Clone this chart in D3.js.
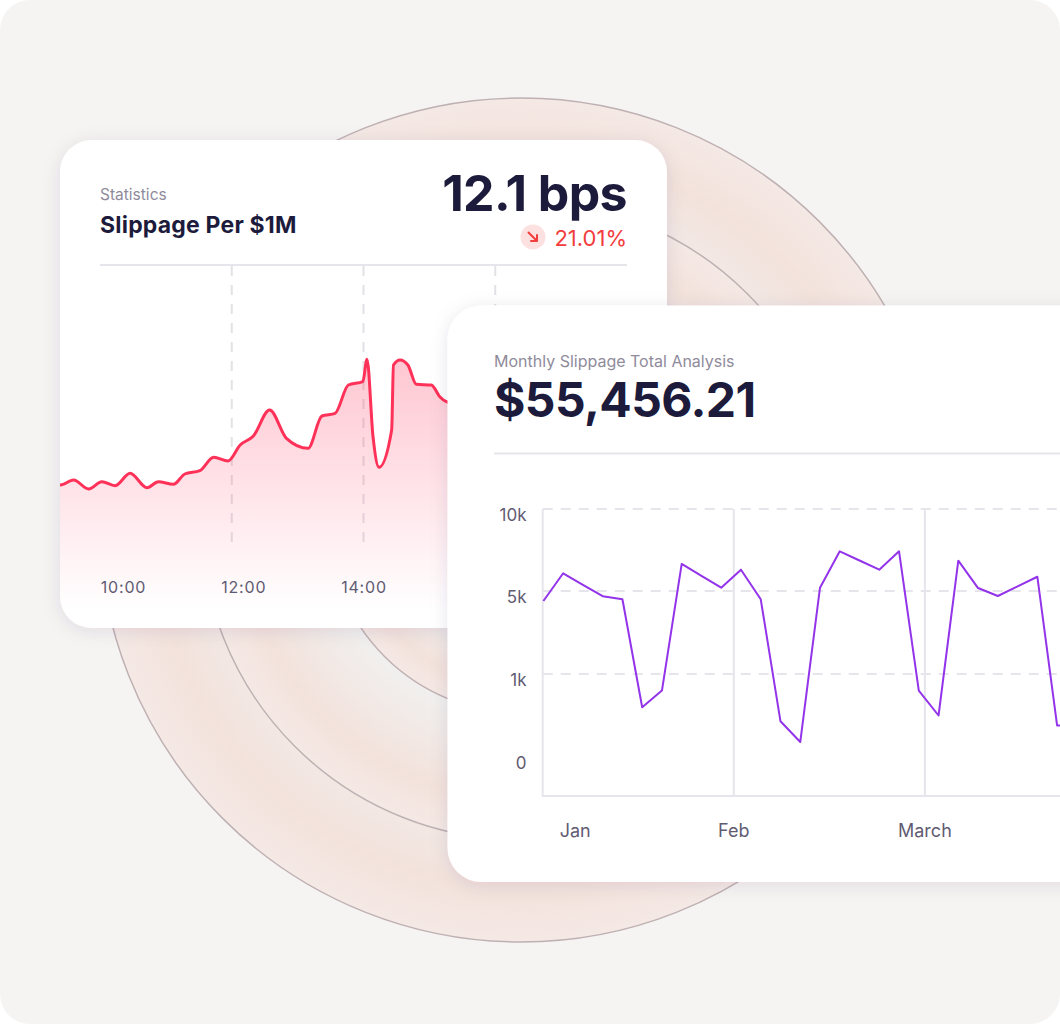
<!DOCTYPE html>
<html>
<head>
<meta charset="utf-8">
<script src="https://cdn.jsdelivr.net/npm/d3@7"></script>
<style>
  html, body { margin: 0; padding: 0; background: #ffffff; }
  svg { display: block; font-family: Inter, "Noto Sans", sans-serif; }
</style>
</head>
<body>
<div id="chart"></div>
<script>
// ---- data ----
// left card: slippage per $1M (bps) over the trading day (decimal hours)
const slipHours = [8.7, 8.95, 9.17, 9.42, 9.64, 9.86, 10.11, 10.39, 10.58, 10.83, 11.02, 11.27, 11.5, 11.74,
  11.94, 12.16, 12.43, 12.71, 13.07, 13.3, 13.52, 13.74, 13.98, 14.05, 14.15, 14.25, 14.46, 14.49,
  14.6, 14.73, 14.87, 15.12, 15.26, 15.37, 15.6, 16.0];
const slipBps = [8.3, 8.0, 8.5, 7.6, 8.33, 7.93, 9.17, 7.73, 8.33, 8.07, 9.1, 9.43, 10.77, 10.4,
  12.0, 12.9, 15.5, 12.67, 11.67, 14.9, 15.17, 18.0, 18.33, 20.57, 12.83, 9.77, 13.5, 20.0,
  20.5, 20.0, 18.07, 18.0, 16.83, 16.33, 16.0, 16.5];
const hourTicks = [10, 12, 14];

// right card: monthly slippage total
const monthlyValues = [4520, 6080, 5380, 4750, 4600, 600, 800, 6650, 5920, 5200, 6300, 4600, 430, 180,
  5200, 7420, 6860, 6300, 7420, 800, 500, 6850, 5180, 4760, 5280, 5870, 380, 380];
const monthLabels = ["Jan", "Feb", "March"];
const valueTicks = [0, 1000, 5000, 10000];
const valueTickLabels = ["0", "1k", "5k", "10k"];

const width = 1060, height = 1024;
const dark = "#1d1b3b", grey = "#8f8b9b", axisText = "#5f5b72", gridColor = "#e6e5ec";
const red = "#fe3158", purple = "#9333ea";

const svg = d3.select("#chart").append("svg")
  .attr("width", width)
  .attr("height", height);

const defs = svg.append("defs");

const ringGrad = defs.append("radialGradient").attr("id", "ring");
[[0, "#eeeded"], [0.6, "#f1f0ef"], [0.87, "#f3e2dc"], [1, "#f5e9e5"]].forEach(s =>
  ringGrad.append("stop").attr("offset", s[0]).attr("stop-color", s[1]));

const areaGrad = defs.append("linearGradient").attr("id", "areaFill")
  .attr("gradientUnits", "userSpaceOnUse")
  .attr("x1", 0).attr("x2", 0).attr("y1", 355).attr("y2", 610);
areaGrad.append("stop").attr("offset", 0).attr("stop-color", red).attr("stop-opacity", 0.28);
areaGrad.append("stop").attr("offset", 1).attr("stop-color", red).attr("stop-opacity", 0);

const shadow = defs.append("filter").attr("id", "shadow")
  .attr("x", "-20%").attr("y", "-20%").attr("width", "140%").attr("height", "140%");
shadow.append("feDropShadow")
  .attr("dx", 0).attr("dy", 3).attr("stdDeviation", 9)
  .attr("flood-color", "#2a1f45").attr("flood-opacity", 0.1);

// ---- background ----
svg.append("rect")
  .attr("width", width).attr("height", height)
  .attr("rx", 30).attr("fill", "#f6f4f2");

svg.append("g").selectAll("circle")
  .data([422, 320, 193])
  .join("circle")
  .attr("cx", 521).attr("cy", 520)
  .attr("r", d => d)
  .attr("fill", "url(#ring)")
  .attr("stroke", "#bfb1b3")
  .attr("stroke-width", 1.5);

// ---- left card ----
const card1 = { x: 60, y: 140, w: 607, h: 488, r: 32 };

defs.append("clipPath").attr("id", "card1Clip")
  .append("rect")
  .attr("x", card1.x).attr("y", card1.y)
  .attr("width", card1.w).attr("height", card1.h).attr("rx", card1.r);

const left = svg.append("g");

left.append("rect")
  .attr("x", card1.x).attr("y", card1.y)
  .attr("width", card1.w).attr("height", card1.h)
  .attr("rx", card1.r)
  .attr("fill", "#ffffff")
  .attr("filter", "url(#shadow)");

left.append("text")
  .attr("x", 100).attr("y", 200)
  .attr("font-size", 15.5).attr("fill", grey)
  .text("Statistics");

left.append("text")
  .attr("x", 100).attr("y", 233)
  .attr("font-size", 23).attr("font-weight", 700).attr("fill", dark)
  .attr("letter-spacing", 0.2)
  .text("Slippage Per $1M");

left.append("text")
  .attr("x", 627).attr("y", 211)
  .attr("text-anchor", "end")
  .attr("font-size", 50).attr("font-weight", 700).attr("fill", dark)
  .attr("letter-spacing", -0.6)
  .text("12.1 bps");

left.append("text")
  .attr("x", 627).attr("y", 246)
  .attr("text-anchor", "end")
  .attr("font-size", 22).attr("fill", "#f23d3d")
  .text("21.01%");

// down badge
const badge = left.append("g").attr("transform", "translate(533,237)");
badge.append("circle").attr("r", 12.5).attr("fill", "#fde0e0");
badge.append("path")
  .attr("d", "M-4.5,-4.5L4,4M-2,4H4V-2")
  .attr("fill", "none")
  .attr("stroke", "#f23d3d")
  .attr("stroke-width", 2)
  .attr("stroke-linecap", "round")
  .attr("stroke-linejoin", "round");

left.append("line")
  .attr("x1", 100).attr("x2", 627)
  .attr("y1", 265).attr("y2", 265)
  .attr("stroke", gridColor).attr("stroke-width", 2);

// quarter guides
const guideX = d3.scaleLinear().domain([0, 4]).range([100, 627]);
left.append("g").selectAll("line")
  .data([1, 2, 3])
  .join("line")
  .attr("x1", d => guideX(d)).attr("x2", d => guideX(d))
  .attr("y1", 266).attr("y2", 542)
  .attr("stroke", "#e2e1e6")
  .attr("stroke-width", 2)
  .attr("stroke-dasharray", "10 9");

const hourX = d3.scaleLinear().domain([10, 14]).range([123.5, 364]);
const bpsY = d3.scaleLinear().domain([0, 30]).range([565, 265]);

const slipData = slipHours.map((h, i) => ({ h: h, v: slipBps[i] }));

const plot1 = left.append("g").attr("clip-path", "url(#card1Clip)");

plot1.append("path")
  .datum(slipData)
  .attr("fill", "url(#areaFill)")
  .attr("d", d3.area()
    .x(d => hourX(d.h))
    .y0(card1.y + card1.h)
    .y1(d => bpsY(d.v))
    .curve(d3.curveMonotoneX));

plot1.append("path")
  .datum(slipData)
  .attr("fill", "none")
  .attr("stroke", red)
  .attr("stroke-width", 3)
  .attr("stroke-linejoin", "round")
  .attr("d", d3.line()
    .x(d => hourX(d.h))
    .y(d => bpsY(d.v))
    .curve(d3.curveMonotoneX));

left.append("g").selectAll("text")
  .data(hourTicks)
  .join("text")
  .attr("x", d => hourX(d)).attr("y", 593)
  .attr("text-anchor", "middle")
  .attr("font-size", 16).attr("letter-spacing", 0.8)
  .attr("fill", axisText)
  .text(d => d + ":00");

// ---- right card ----
const card2 = { x: 447.5, y: 305.5, w: 720, h: 576.5, r: 34 };
const right = svg.append("g");

right.append("rect")
  .attr("x", card2.x).attr("y", card2.y)
  .attr("width", card2.w).attr("height", card2.h)
  .attr("rx", card2.r)
  .attr("fill", "#ffffff")
  .attr("filter", "url(#shadow)");

right.append("text")
  .attr("x", 494).attr("y", 367)
  .attr("font-size", 16).attr("fill", grey)
  .text("Monthly Slippage Total Analysis");

right.append("text")
  .attr("x", 494).attr("y", 417)
  .attr("font-size", 48).attr("font-weight", 700).attr("fill", dark)
  .attr("letter-spacing", -0.6)
  .text("$55,456.21");

right.append("line")
  .attr("x1", 494).attr("x2", width)
  .attr("y1", 453.5).attr("y2", 453.5)
  .attr("stroke", gridColor).attr("stroke-width", 2);

const plotLeft = 542.7, plotBottom = 796;
const idxX = d3.scaleLinear().domain([0, 26]).range([543.4, 1057.1]);
const valY = d3.scaleLinear().domain(valueTicks).range([757, 674, 591, 509]);
const monthX = d3.scaleLinear().domain([0, 1]).range([plotLeft, 733.8]);

// horizontal dashed grid
right.append("g").selectAll("line")
  .data(valueTicks.slice(1))
  .join("line")
  .attr("x1", plotLeft).attr("x2", width)
  .attr("y1", d => valY(d)).attr("y2", d => valY(d))
  .attr("stroke", gridColor)
  .attr("stroke-width", 2)
  .attr("stroke-dasharray", "10 8");

// month separators
right.append("g").selectAll("line")
  .data([1, 2])
  .join("line")
  .attr("x1", d => monthX(d)).attr("x2", d => monthX(d))
  .attr("y1", valY(10000)).attr("y2", plotBottom)
  .attr("stroke", gridColor).attr("stroke-width", 2);

// axes
right.append("line")
  .attr("x1", plotLeft).attr("x2", plotLeft)
  .attr("y1", valY(10000)).attr("y2", plotBottom)
  .attr("stroke", gridColor).attr("stroke-width", 2);
right.append("line")
  .attr("x1", plotLeft - 1).attr("x2", width)
  .attr("y1", plotBottom).attr("y2", plotBottom)
  .attr("stroke", gridColor).attr("stroke-width", 2);

right.append("g").selectAll("text")
  .data(valueTicks)
  .join("text")
  .attr("x", 526.5)
  .attr("y", d => valY(d) + 12)
  .attr("text-anchor", "end")
  .attr("font-size", 17).attr("fill", axisText)
  .text((d, i) => valueTickLabels[i]);

right.append("g").selectAll("text")
  .data(monthLabels)
  .join("text")
  .attr("x", (d, i) => i === 0 ? plotLeft + 17 : monthX(i))
  .attr("y", 837)
  .attr("text-anchor", (d, i) => i === 0 ? "start" : "middle")
  .attr("font-size", 18).attr("fill", axisText)
  .text(d => d);

right.append("path")
  .datum(monthlyValues)
  .attr("fill", "none")
  .attr("stroke", purple)
  .attr("stroke-width", 2)
  .attr("stroke-linejoin", "round")
  .attr("d", d3.line()
    .x((d, i) => idxX(i))
    .y(d => valY(d)));
</script>
</body>
</html>
